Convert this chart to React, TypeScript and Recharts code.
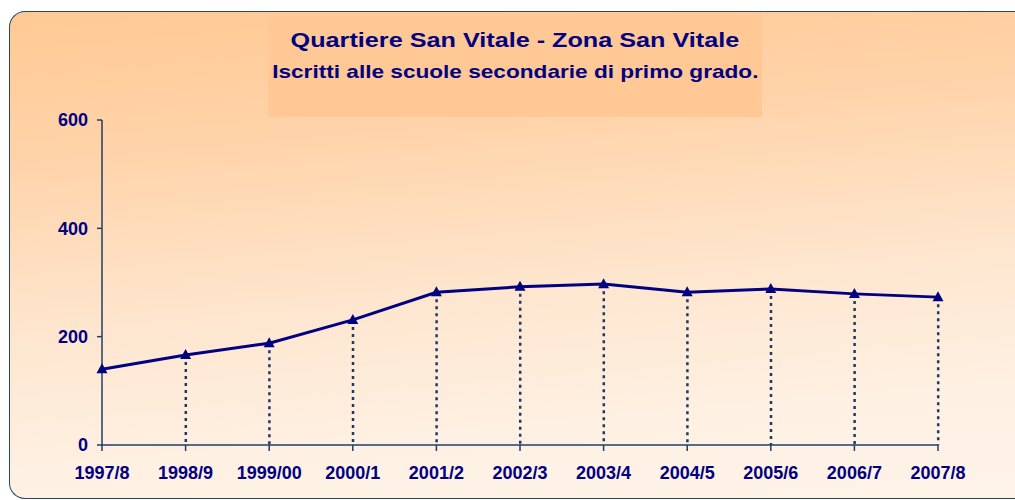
import React from 'react';
import { ComposedChart, Line, Bar, XAxis, YAxis } from 'recharts';

const anni = ['1997/8', '1998/9', '1999/00', '2000/1', '2001/2', '2002/3', '2003/4', '2004/5', '2005/6', '2006/7', '2007/8'];
const iscritti = [140, 166, 188, 231, 282, 292, 297, 282, 288, 279, 273];
const yTicks = [0, 200, 400, 600];
const xTicks = anni.map((_, i) => i);

const data = anni.map((a, i) => ({ idx: i, anno: a, iscritti: iscritti[i] }));

const NAVY = '#000080';
const AXIS = '#1F3F66';
const FONT = '"Liberation Sans", Arial, sans-serif';

const Triangle = (props: any) => {
  const { cx, cy } = props;
  if (cx == null || cy == null) return null;
  return <polygon points={`${cx},${cy - 6} ${cx - 5.5},${cy + 4} ${cx + 5.5},${cy + 4}`} fill={NAVY} />;
};

const DropLine = (props: any) => {
  const { x, y, width, height, index } = props;
  if (index === 0 || x == null) return null;
  const cx = x + width / 2;
  return <line x1={cx} y1={y} x2={cx} y2={y + height} stroke="#1F3864" strokeWidth={2.5} strokeDasharray="3 4" />;
};

export default function App() {
  return (
    <div style={{ position: 'fixed', left: 0, top: 0, width: 1015, height: 500, overflow: 'hidden', fontFamily: FONT, background: '#fff' }}>
      <div
        style={{
          position: 'absolute', left: 9, top: 11, width: 1200, height: 488, boxSizing: 'border-box',
          border: '1.5px solid #24466E', borderRight: 'none', borderRadius: '16px 0 0 16px',
          background: 'linear-gradient(175deg, #FFC994 0%, #FFD3A9 25%, #FEE6CF 55%, #FEF1E4 80%, #FEF3E8 100%)',
        }}
      />
      <div style={{ position: 'absolute', left: 268, top: 13, width: 494, height: 104, background: '#FFC894' }} />
      <div style={{ position: 'absolute', left: 0, top: 29, width: 1030, textAlign: 'center', color: NAVY, fontWeight: 'bold', fontSize: 21, lineHeight: '21px', whiteSpace: 'nowrap' }}>
        <span style={{ display: 'inline-block', transform: 'scaleX(1.2)' }}>Quartiere San Vitale - Zona San Vitale</span>
      </div>
      <div style={{ position: 'absolute', left: 0, top: 62, width: 1030, textAlign: 'center', color: NAVY, fontWeight: 'bold', fontSize: 19, lineHeight: '19px', whiteSpace: 'nowrap' }}>
        <span style={{ display: 'inline-block', transform: 'scaleX(1.19)' }}>Iscritti alle scuole secondarie di primo grado.</span>
      </div>
      <div style={{ position: 'absolute', left: 0, top: 0 }}>
        <ComposedChart width={1015} height={500} data={data} margin={{ top: 120, right: 77, bottom: 25, left: 42 }}>
          <XAxis
            type="number"
            dataKey="idx"
            domain={[0, 10]}
            ticks={xTicks}
            interval={0}
            tickFormatter={(i: number) => anni[i]}
            height={30}
            tickSize={6}
            tickMargin={15}
            axisLine={{ stroke: AXIS, strokeWidth: 1.5 }}
            tickLine={{ stroke: AXIS, strokeWidth: 1.5 }}
            tick={{ fill: NAVY, fontSize: 18, fontWeight: 'bold', fontFamily: FONT }}
          />
          <YAxis
            domain={[0, 600]}
            ticks={yTicks}
            width={60}
            tickSize={5}
            tickMargin={9}
            axisLine={{ stroke: AXIS, strokeWidth: 1.5 }}
            tickLine={{ stroke: AXIS, strokeWidth: 1.5 }}
            tick={{ fill: NAVY, fontSize: 18, fontWeight: 'bold', fontFamily: FONT }}
          />
          <Bar dataKey="iscritti" barSize={2} shape={<DropLine />} isAnimationActive={false} />
          <Line dataKey="iscritti" stroke={NAVY} strokeWidth={3} dot={<Triangle />} activeDot={false} isAnimationActive={false} />
        </ComposedChart>
      </div>
    </div>
  );
}
